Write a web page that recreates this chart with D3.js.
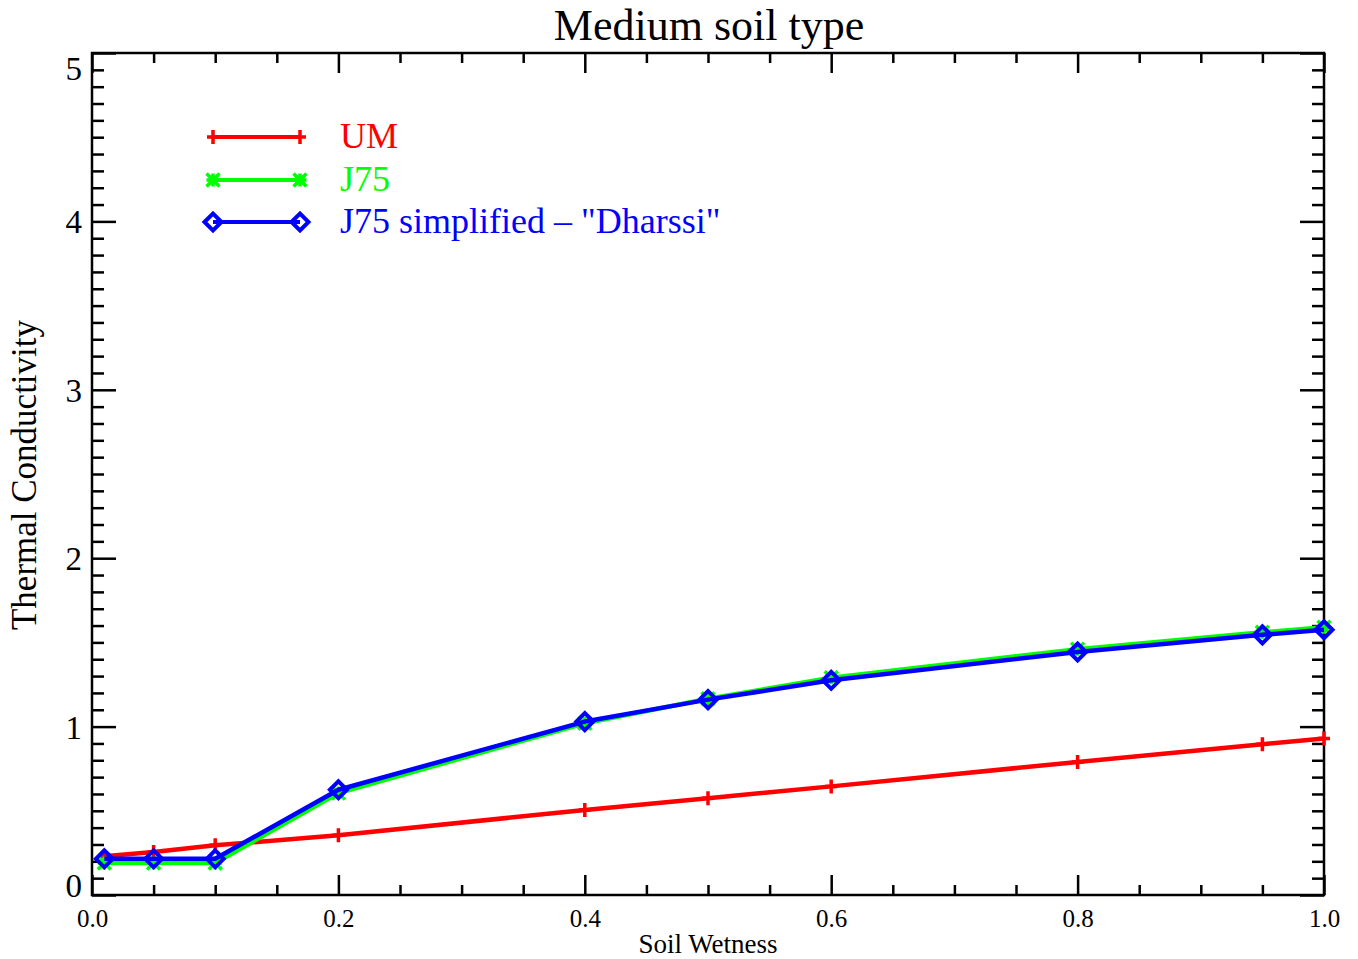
<!DOCTYPE html>
<html><head><meta charset="utf-8">
<script src="https://cdn.jsdelivr.net/npm/d3@7"></script>
<style>body{margin:0;background:#fff}</style>
</head><body><svg id="c" width="1358" height="959"></svg>
<script>
const soilWetness = [0.01,0.05,0.1,0.2,0.4,0.5,0.6,0.8,0.95,1.0];
const umValues = [0.23,0.255,0.295,0.355,0.505,0.575,0.645,0.79,0.895,0.93];
const j75Values = [0.19,0.19,0.19,0.605,1.02,1.165,1.29,1.46,1.56,1.59];
const dharssiValues = [0.215,0.215,0.215,0.625,1.03,1.16,1.275,1.443,1.545,1.575];
const seriesNames = ["UM","J75","J75 simplified \u2013 \"Dharssi\""];
const seriesColors = ["#ff0000","#00ff00","#0000ff"];
const seriesMarkers = ["plus","asterisk","diamond"];
const xTickValues = [0,0.2,0.4,0.6,0.8,1.0];
const xTickLabels = ["0.0","0.2","0.4","0.6","0.8","1.0"];
const yTickValues = [0,1,2,3,4,5];
const yTickLabels = ["0","1","2","3","4","5"];
const titleText = "Medium soil type";
const xTitle = "Soil Wetness";
const yTitle = "Thermal Conductivity";

const FONT = "'Liberation Serif','Times New Roman',serif";
const L = 92, R = 1324, T = 53, B = 895;
const svg = d3.select("#c");
const x = d3.scaleLinear().domain([0,1]).range([L,R]);
const y = d3.scaleLinear().domain([0,5]).range([B,T]);

const xMinor = d3.range(0,1.0001,0.05).filter(v => !xTickValues.some(t => Math.abs(t-v)<1e-6));
const yMinor = d3.range(0,5.0001,0.1).filter(v => !yTickValues.some(t => Math.abs(t-v)<1e-6));

function styleAxis(g){ g.select(".domain").remove(); g.selectAll("line").attr("stroke","#000").attr("stroke-width",2.5); }

// bottom
svg.append("g").attr("transform",`translate(0,${B})`)
  .call(d3.axisBottom(x).tickValues(xMinor).tickSize(-10).tickFormat("")).call(styleAxis);
const bx = svg.append("g").attr("transform",`translate(0,${B})`)
  .call(d3.axisBottom(x).tickValues(xTickValues).tickSize(-20).tickPadding(14).tickFormat((d,i)=>xTickLabels[i])).call(styleAxis);
bx.selectAll("text").attr("font-family",FONT).attr("font-size",25).attr("fill","#000");
// top
svg.append("g").attr("transform",`translate(0,${T})`)
  .call(d3.axisTop(x).tickValues(xMinor).tickSize(-10).tickFormat("")).call(styleAxis);
svg.append("g").attr("transform",`translate(0,${T})`)
  .call(d3.axisTop(x).tickValues(xTickValues).tickSize(-20).tickFormat("")).call(styleAxis);
// left
svg.append("g").attr("transform",`translate(${L},0)`)
  .call(d3.axisLeft(y).tickValues(yMinor).tickSize(-12).tickFormat("")).call(styleAxis);
const ly = svg.append("g").attr("transform",`translate(${L},0)`)
  .call(d3.axisLeft(y).tickValues(yTickValues).tickSize(-24).tickPadding(10).tickFormat((d,i)=>yTickLabels[i])).call(styleAxis);
ly.selectAll("text").attr("font-family",FONT).attr("font-size",33).attr("fill","#000")
  .attr("dy",(d)=> d===5 ? "0.8em" : d===0 ? "0.05em" : "0.35em");
// right
svg.append("g").attr("transform",`translate(${R},0)`)
  .call(d3.axisRight(y).tickValues(yMinor).tickSize(-12).tickFormat("")).call(styleAxis);
svg.append("g").attr("transform",`translate(${R},0)`)
  .call(d3.axisRight(y).tickValues(yTickValues).tickSize(-24).tickFormat("")).call(styleAxis);

// frame
svg.append("rect").attr("x",L).attr("y",T).attr("width",R-L).attr("height",B-T)
  .attr("fill","none").attr("stroke","#000").attr("stroke-width",2.5);

// markers
function drawMarker(g, type, cx, cy, color){
  if(type==="plus"){
    g.append("path").attr("d",`M${cx-6},${cy}H${cx+6}M${cx},${cy-7}V${cy+7}`)
      .attr("stroke",color).attr("stroke-width",3.5).attr("fill","none");
  } else if(type==="asterisk"){
    const s=6.5;
    g.append("path").attr("d",`M${cx-s},${cy}H${cx+s}M${cx},${cy-s}V${cy+s}M${cx-s},${cy-s}L${cx+s},${cy+s}M${cx-s},${cy+s}L${cx+s},${cy-s}`)
      .attr("stroke",color).attr("stroke-width",3.5).attr("fill","none");
  } else {
    const s=8.5;
    g.append("path").attr("d",`M${cx-s},${cy}L${cx},${cy-s}L${cx+s},${cy}L${cx},${cy+s}Z`)
      .attr("stroke",color).attr("stroke-width",4).attr("fill","none");
  }
}

const allSeries = [umValues, j75Values, dharssiValues];
const line = d3.line().x(d=>x(d[0])).y(d=>y(d[1]));
allSeries.forEach((vals,i)=>{
  const pts = soilWetness.map((w,j)=>[w,vals[j]]);
  const g = svg.append("g");
  g.append("path").attr("d",line(pts)).attr("fill","none").attr("stroke",seriesColors[i])
    .attr("stroke-width",4.5).attr("stroke-linejoin","round");
  pts.forEach(p=>drawMarker(g, seriesMarkers[i], x(p[0]), y(p[1]), seriesColors[i]));
});

// legend
const legY = [137,180,222];
seriesNames.forEach((n,i)=>{
  const g = svg.append("g");
  g.append("line").attr("x1",213).attr("x2",300).attr("y1",legY[i]).attr("y2",legY[i])
    .attr("stroke",seriesColors[i]).attr("stroke-width",4);
  drawMarker(g, seriesMarkers[i], 213, legY[i], seriesColors[i]);
  drawMarker(g, seriesMarkers[i], 300, legY[i], seriesColors[i]);
  g.append("text").attr("x",340).attr("y",legY[i]+11).attr("font-family",FONT)
    .attr("font-size",36).attr("fill",seriesColors[i]).text(n);
});

// titles
svg.append("text").attr("x",(L+R)/2+1).attr("y",40).attr("text-anchor","middle")
  .attr("font-family",FONT).attr("font-size",44).attr("fill","#000").text(titleText);
svg.append("text").attr("x",(L+R)/2).attr("y",953).attr("text-anchor","middle")
  .attr("font-family",FONT).attr("font-size",27).attr("fill","#000").text(xTitle);
svg.append("text").attr("transform",`translate(36,475) rotate(-90)`).attr("text-anchor","middle")
  .attr("font-family",FONT).attr("font-size",35).attr("fill","#000").text(yTitle);
</script></body></html>
